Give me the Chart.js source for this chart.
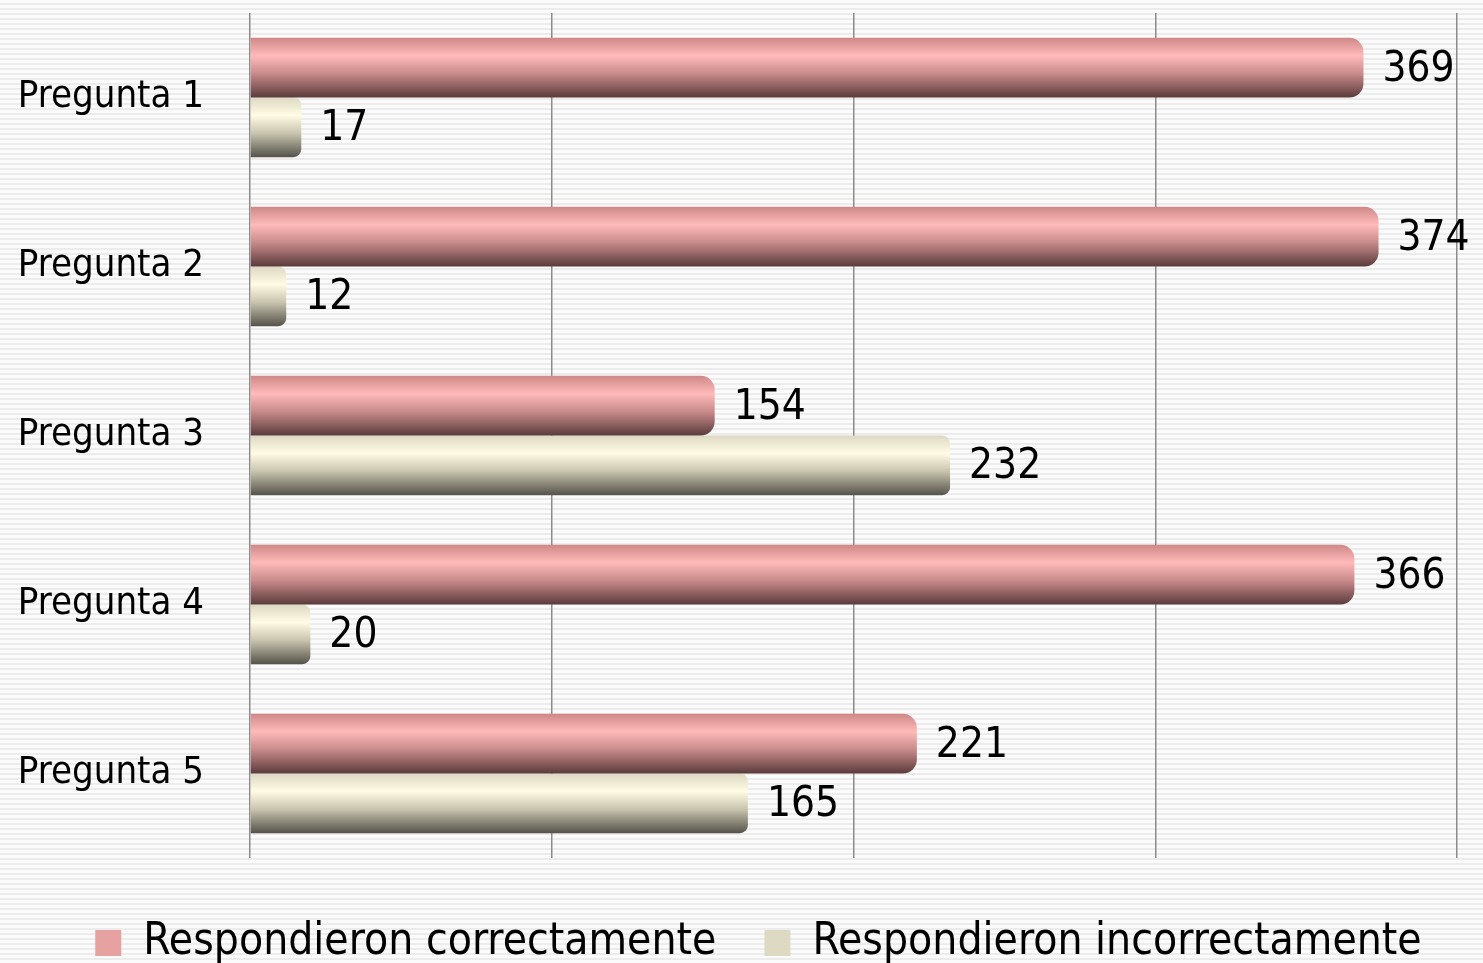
<!DOCTYPE html>
<html>
<head>
<meta charset="utf-8">
<script src="https://cdn.jsdelivr.net/npm/chart.js@4"></script>
<style>
  body { margin: 0; background: #fff; }
  #wrap { width: 1483px; height: 963px; }
</style>
</head>
<body>
<div id="wrap"><canvas id="myChart" width="1483" height="963"></canvas></div>
<script>
const categories = ['Pregunta 1', 'Pregunta 2', 'Pregunta 3', 'Pregunta 4', 'Pregunta 5']
const correctas = [369, 374, 154, 366, 221]
const incorrectas = [17, 12, 232, 20, 165]
const seriesNames = ['Respondieron correctamente', 'Respondieron incorrectamente']
const xTicks = [0, 100, 200, 300, 400]

const FONT = "'Liberation Sans Narrow', 'DejaVu Sans Condensed', sans-serif"
const CAT_PCT = 0.706

// colour stops for the cylinder look
const shades = [
  ['#cf8888', '#ffbaba', '#c88a8a', '#5b3b3b'],
  ['#dcd8c2', '#fffbe4', '#c8c4ae', '#55524a']
]
const flat = ['#e6a1a1', '#ddd9c3']

function barFill (ctx) {
  const chart = ctx.chart
  const y = chart.scales.y
  if (!y || ctx.dataIndex === undefined) return flat[ctx.datasetIndex]
  const band = y.height / categories.length
  const h = band * CAT_PCT / 2
  const c = y.getPixelForValue(ctx.dataIndex)
  const top = ctx.datasetIndex === 0 ? c - h : c
  const g = chart.ctx.createLinearGradient(0, top, 0, top + h)
  const s = shades[ctx.datasetIndex]
  g.addColorStop(0, s[0])
  g.addColorStop(0.3, s[1])
  g.addColorStop(0.6, s[2])
  g.addColorStop(1, s[3])
  return g
}

// striped background
const stripes = {
  id: 'stripes',
  beforeDraw (chart) {
    const c = chart.ctx
    c.save()
    for (let yy = 0; yy < chart.height; yy += 5) {
      c.fillStyle = '#fbfbfb'
      c.fillRect(0, yy, chart.width, 3)
      c.fillStyle = '#ececec'
      c.fillRect(0, yy + 3, chart.width, 2)
    }
    c.restore()
  },
  // nudge the legend down and right without squeezing the plot
  afterLayout (chart) {
    const lg = chart.legend
    lg.top += 15
    lg.bottom += 15
    lg.left += 30
    lg.right += 30
  }
}

// numbers at bar ends
const valueLabels = {
  id: 'valueLabels',
  afterDatasetsDraw (chart) {
    const c = chart.ctx
    c.save()
    c.font = '42px ' + FONT
    c.fillStyle = '#000'
    c.textAlign = 'left'
    c.textBaseline = 'middle'
    chart.data.datasets.forEach((ds, i) => {
      chart.getDatasetMeta(i).data.forEach((bar, j) => {
        c.fillText(ds.data[j], bar.x + 19, bar.y + 2)
      })
    })
    c.restore()
  }
}

new Chart(document.getElementById('myChart').getContext('2d'), {
  type: 'bar',
  data: {
    labels: categories,
    datasets: [
      {
        label: seriesNames[0],
        data: correctas,
        backgroundColor: barFill,
        borderRadius: 14,
        borderSkipped: 'start'
      },
      {
        label: seriesNames[1],
        data: incorrectas,
        backgroundColor: barFill,
        borderRadius: 8,
        borderSkipped: 'start'
      }
    ]
  },
  options: {
    indexAxis: 'y',
    responsive: false,
    animation: false,
    categoryPercentage: CAT_PCT,
    barPercentage: 1,
    layout: { padding: { top: 13, right: 26, left: 0, bottom: 3 } },
    scales: {
      x: {
        min: xTicks[0],
        max: xTicks[xTicks.length - 1],
        ticks: { display: false, stepSize: 100 },
        grid: { color: '#8c8c8c', lineWidth: 1.5, drawTicks: false },
        border: { display: false }
      },
      y: {
        grid: { display: false },
        border: { display: false },
        ticks: { color: '#000', font: { size: 38, family: FONT }, padding: 38 },
        afterFit (axis) {
          axis.width = 250
          axis.paddingTop = 0
          axis.paddingBottom = 0
        }
      }
    },
    plugins: {
      legend: {
        position: 'bottom',
        labels: {
          color: '#000',
          font: { size: 44, family: FONT },
          boxWidth: 26,
          boxHeight: 26,
          padding: 48,
          generateLabels (chart) {
            return chart.data.datasets.map((ds, i) => ({
              text: ds.label,
              fillStyle: flat[i],
              strokeStyle: flat[i],
              lineWidth: 0,
              datasetIndex: i
            }))
          }
        }
      },
      tooltip: { enabled: false }
    }
  },
  plugins: [stripes, valueLabels]
})
</script>
</body>
</html>
